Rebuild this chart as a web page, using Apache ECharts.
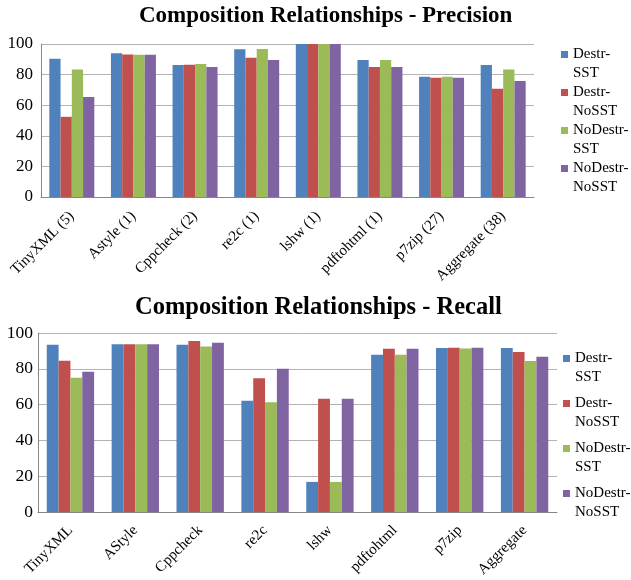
<!DOCTYPE html>
<html>
<head>
<meta charset="utf-8">
<script src="https://cdn.jsdelivr.net/npm/echarts@6/dist/echarts.min.js"></script>
<style>
  html, body { margin: 0; padding: 0; background: #fff; }
  #main { width: 631px; height: 580px; }
</style>
</head>
<body>
<div id="main"></div>
<script>
// data
const seriesNames = ['Destr-SST', 'Destr-NoSST', 'NoDestr-SST', 'NoDestr-NoSST']
const colors = ['#4f81bd', '#c0504d', '#9bbb59', '#8064a2']

const precisionCats = ['TinyXML (5)', 'Astyle (1)', 'Cppcheck (2)', 're2c (1)', 'lshw (1)', 'pdftohtml (1)', 'p7zip (27)', 'Aggregate (38)']
const precDestrSST = [90.4, 93.9, 86.2, 96.5, 100, 89.5, 78.6, 86.2]
const precDestrNoSST = [52.4, 93.2, 86.5, 91.0, 100, 84.9, 77.9, 70.7]
const precNoDestrSST = [83.4, 93.0, 86.9, 96.7, 100, 89.5, 78.6, 83.4]
const precNoDestrNoSST = [65.3, 93.0, 84.9, 89.5, 100, 84.9, 77.9, 75.8]

const recallCats = ['TinyXML', 'AStyle', 'Cppcheck', 're2c', 'lshw', 'pdftohtml', 'p7zip', 'Aggregate']
const recDestrSST = [93.5, 93.7, 93.5, 62.2, 16.8, 87.9, 91.6, 91.6]
const recDestrNoSST = [84.5, 93.7, 95.5, 74.7, 63.3, 91.2, 91.8, 89.4]
const recNoDestrSST = [75.0, 93.7, 92.5, 61.3, 16.8, 87.9, 91.4, 84.4]
const recNoDestrNoSST = [78.4, 93.7, 94.6, 80.0, 63.3, 91.2, 91.8, 86.8]

const yTicks = [0, 20, 40, 60, 80, 100]

const font = 'Liberation Serif'
const precData = [precDestrSST, precDestrNoSST, precNoDestrSST, precNoDestrNoSST]
const recData = [recDestrSST, recDestrNoSST, recNoDestrSST, recNoDestrNoSST]

function makeBars(data, idx) {
  return data.map((vals, i) => ({
    name: seriesNames[i],
    type: 'bar',
    xAxisIndex: idx,
    yAxisIndex: idx,
    data: vals,
    barGap: '0%',
    barCategoryGap: '27%',
    itemStyle: { color: colors[i] }
  }))
}

function xAxisOf(cats, idx, margin) {
  return {
    type: 'category',
    gridIndex: idx,
    data: cats,
    axisTick: { show: false },
    axisLine: { lineStyle: { color: '#868686', width: 1 } },
    axisLabel: { rotate: 45, color: '#000', fontFamily: font, fontSize: 15, margin: margin, interval: 0 }
  }
}

function yAxisOf(idx, margin, size) {
  return {
    type: 'value',
    gridIndex: idx,
    min: yTicks[0],
    max: yTicks[yTicks.length - 1],
    interval: yTicks[1] - yTicks[0],
    axisLine: { show: true, lineStyle: { color: '#868686' } },
    axisTick: { show: false },
    splitLine: { lineStyle: { color: '#b3b3b3', width: 1 } },
    axisLabel: { color: '#000', fontFamily: font, fontSize: size, margin: margin }
  }
}

// leading empty line keeps the square next to the first line of the name
function legendOf(left, top, gap) {
  return {
    orient: 'vertical',
    left: left,
    top: top,
    padding: 0,
    itemGap: gap,
    icon: 'rect',
    itemWidth: 7,
    itemHeight: 7,
    data: seriesNames,
    formatter: name => '\n' + name.replace('-', '-\n'),
    textStyle: { fontFamily: font, fontSize: 15, color: '#000', lineHeight: 19 }
  }
}

const chart = echarts.init(document.getElementById('main'))
chart.setOption({
  animation: false,
  title: [
    { text: 'Composition Relationships - Precision', left: 134, top: 0,
      textStyle: { fontFamily: font, fontSize: 23, fontWeight: 'bold', color: '#000' } },
    { text: 'Composition Relationships - Recall', left: 130, top: 290,
      textStyle: { fontFamily: font, fontSize: 24.5, fontWeight: 'bold', color: '#000' } }
  ],
  legend: [legendOf(561, 26, -19), legendOf(563, 330, -12)],
  grid: [
    { left: 41, right: 97, top: 44, bottom: 383 },
    { left: 38, right: 74, top: 333, bottom: 68 }
  ],
  xAxis: [xAxisOf(precisionCats, 0, 17), xAxisOf(recallCats, 1, 16)],
  yAxis: [yAxisOf(0, 8, 17), yAxisOf(1, 5, 17.5)],
  series: makeBars(precData, 0).concat(makeBars(recData, 1))
})
</script>
</body>
</html>
